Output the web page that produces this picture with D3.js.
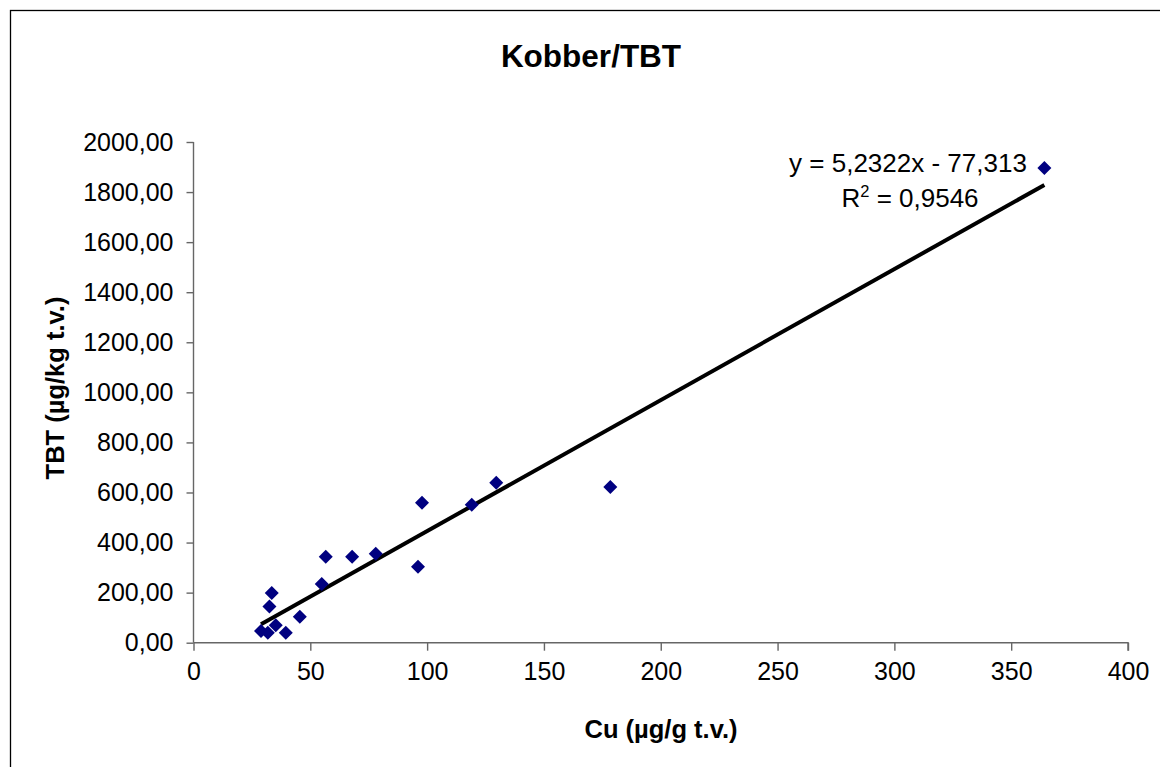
<!DOCTYPE html>
<html><head><meta charset="utf-8">
<script src="https://cdn.jsdelivr.net/npm/d3@7"></script>
<style>html,body{margin:0;padding:0;background:#fff;}svg{display:block;font-family:"Liberation Sans",Arial,sans-serif;}</style>
</head><body>
<svg id="c" width="1160" height="767"></svg>
<script>
const cu  = [28.9, 31.8, 35.2, 39.5, 32.5, 33.5, 45.5, 54.9, 56.6, 67.9, 78.0, 96.1, 97.8, 119.1, 129.6, 178.4, 364.2];
const tbt = [47, 40, 70, 40, 145, 199, 104, 234, 343, 343, 355, 303, 559, 551, 639, 622, 1896];
const xTicks = [0, 50, 100, 150, 200, 250, 300, 350, 400];
const yTicks = [0, 200, 400, 600, 800, 1000, 1200, 1400, 1600, 1800, 2000];
const slope = 5.2322, intercept = -77.313;
const title = "Kobber/TBT";
const xTitle = "Cu (µg/g t.v.)";
const yTitle = "TBT (µg/kg t.v.)";

const svg = d3.select("#c");
const L = 193.5, R = 1128, T = 142, B = 642.7;
const x = d3.scaleLinear().domain([0, 400]).range([L, R]);
const y = d3.scaleLinear().domain([0, 2000]).range([B, T]);

// frame
svg.append("rect").attr("x", 10.5).attr("y", 10.5).attr("width", 1160).attr("height", 780)
  .attr("fill", "none").attr("stroke", "#000").attr("stroke-width", 1.3);

// title
svg.append("text").attr("x", 591).attr("y", 67).attr("text-anchor", "middle")
  .attr("font-size", 31.5).attr("font-weight", "bold").text(title);

// axes
const fmt = d => d3.format(".2f")(d).replace(".", ",");
const gx = svg.append("g").attr("transform", `translate(0,${B})`)
  .call(d3.axisBottom(x).tickValues(xTicks).tickSize(8).tickPadding(12).tickFormat(d3.format("d")));
const gy = svg.append("g").attr("transform", `translate(${L},0)`)
  .call(d3.axisLeft(y).tickValues(yTicks).tickSize(7).tickPadding(13).tickFormat(fmt));
[gx, gy].forEach(g => {
  g.select(".domain").attr("stroke", "#666").attr("stroke-width", 1.4);
  g.selectAll(".tick line").attr("stroke", "#666").attr("stroke-width", 1.4);
  g.selectAll(".tick text").attr("font-size", 25).attr("fill", "#000")
    .attr("font-family", "'Liberation Sans', Arial, sans-serif");
});
gx.select(".domain").attr("d", `M${L},0H${R}V8`);
gy.select(".domain").attr("d", `M0,${T}V${B}`);
gx.selectAll(".tick text").attr("dy", "0.71em");

// axis titles
svg.append("text").attr("x", 661).attr("y", 738).attr("text-anchor", "middle")
  .attr("font-size", 25.5).attr("font-weight", "bold").text(xTitle);
svg.append("text").attr("transform", "translate(64,388) rotate(-90)").attr("text-anchor", "middle")
  .attr("font-size", 25.5).attr("font-weight", "bold").text(yTitle);

// trendline
const xmin = d3.min(cu), xmax = d3.max(cu);
svg.append("line")
  .attr("x1", x(xmin)).attr("y1", y(slope * xmin + intercept))
  .attr("x2", x(xmax)).attr("y2", y(slope * xmax + intercept))
  .attr("stroke", "#000").attr("stroke-width", 4);

// points
const pts = cu.map((c, i) => ({c, t: tbt[i]}));
svg.append("g").selectAll("path").data(pts).join("path")
  .attr("transform", d => `translate(${x(d.c)},${y(d.t)})`)
  .attr("d", "M0,-7L7,0L0,7L-7,0Z")
  .attr("fill", "#000080");

// equation
const eq = svg.append("text").attr("text-anchor", "middle").attr("font-size", 26);
eq.append("tspan").attr("x", 908).attr("y", 172).text("y = 5,2322x - 77,313");
const r2 = svg.append("text").attr("text-anchor", "middle").attr("font-size", 26)
  .attr("x", 910).attr("y", 207);
r2.append("tspan").text("R");
r2.append("tspan").attr("font-size", 16.5).attr("dy", -10).text("2");
r2.append("tspan").attr("dy", 10).text(" = 0,9546");
</script>
</body></html>
